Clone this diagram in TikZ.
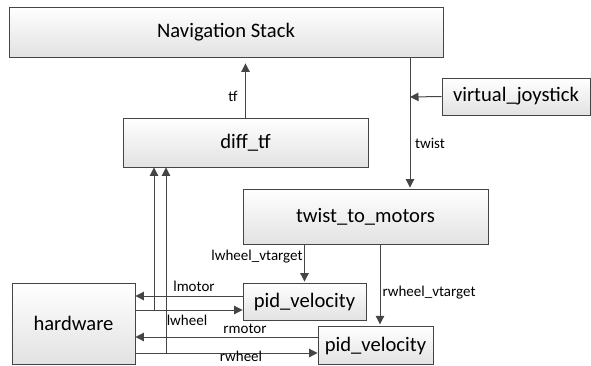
\documentclass[tikz,border=0pt]{standalone}
\usepackage{fontspec}
\setmainfont{Carlito}
\usetikzlibrary{arrows.meta}
\definecolor{edge}{HTML}{454545}
\definecolor{boxbot}{HTML}{E2E2E2}
\tikzset{
  box/.style={draw=edge, line width=0.9pt, top color=white, bottom color=boxbot,
    inner sep=0pt, font=\fontsize{20.6}{24}\selectfont},
  arr/.style={draw=edge, line width=1pt, -{Triangle[width=8.5pt,length=8.5pt]}},
  lab/.style={font=\fontsize{15}{17}\selectfont, inner sep=0pt}
}
\begin{document}
\begin{tikzpicture}[x=1pt,y=-1pt]
\useasboundingbox (0,0) rectangle (591,365);
\node[box, minimum width=434pt, minimum height=50pt] (nav) at (226,32) {Navigation Stack};
\node[box, minimum width=148pt, minimum height=37pt] (vj) at (516,96.5) {virtual\_joystick};
\node[box, minimum width=245pt, minimum height=49pt] (diff) at (245.5,142.5) {diff\_tf};
\node[box, minimum width=245pt, minimum height=55pt] (ttm) at (365.5,216.5) {twist\_to\_motors};
\node[box, minimum width=123pt, minimum height=37pt] (pid1) at (304.5,301.5) {pid\_velocity};
\node[box, minimum width=115pt, minimum height=37.5pt] (pid2) at (375.5,345.5) {pid\_velocity};
\node[box, minimum width=123pt, minimum height=81pt] (hw) at (73.5,323.5) {hardware};

\coordinate (tw) at (410,97);
\coordinate (ylm) at (0,296);
\coordinate (ylw) at (0,310);
\coordinate (yrm) at (0,337);
\coordinate (yrw) at (0,353);
\coordinate (xl) at (154,0);
\coordinate (xr) at (166,0);
\coordinate (xrv) at (380,0);

% tf
\draw[arr, shorten >=6pt] (diff.north) -- (diff.north |- nav.south);
% twist
\draw[arr, shorten >=1pt] (nav.south -| tw) -- (ttm.north -| tw);
\draw[arr] (vj.west) -- (tw);
% targets
\draw[arr, shorten >=1pt] (ttm.south -| pid1.north) -- (pid1.north);
\draw[arr, shorten >=2pt] (ttm.south -| xrv) -- (pid2.north -| xrv);
% motors / wheels
\draw[arr] (pid1.west |- ylm) -- (hw.east |- ylm);
\draw[arr] (hw.east |- ylw) -- (pid1.west |- ylw);
\draw[arr] (pid2.west |- yrm) -- (hw.east |- yrm);
\draw[arr] (hw.east |- yrw) -- (pid2.west |- yrw);
% to diff_tf
\draw[arr] (xl |- ylw) -- (diff.south -| xl);
\draw[arr] (xr |- yrw) -- (diff.south -| xr);

\node[lab] (ltf) at (233,96) {tf};
\node[lab] (ltw) at (430,143) {twist};
\node[lab] (llv) at (257,257) {lwheel\_vtarget};
\node[lab] (lrv) at (429,293) {rwheel\_vtarget};
\node[lab] (llm) at (194,286) {lmotor};
\node[lab] (llw) at (187,320) {lwheel};
\node[lab] (lrm) at (245,329) {rmotor};
\node[lab] (lrw) at (241,356) {rwheel};
\end{tikzpicture}
\end{document}
